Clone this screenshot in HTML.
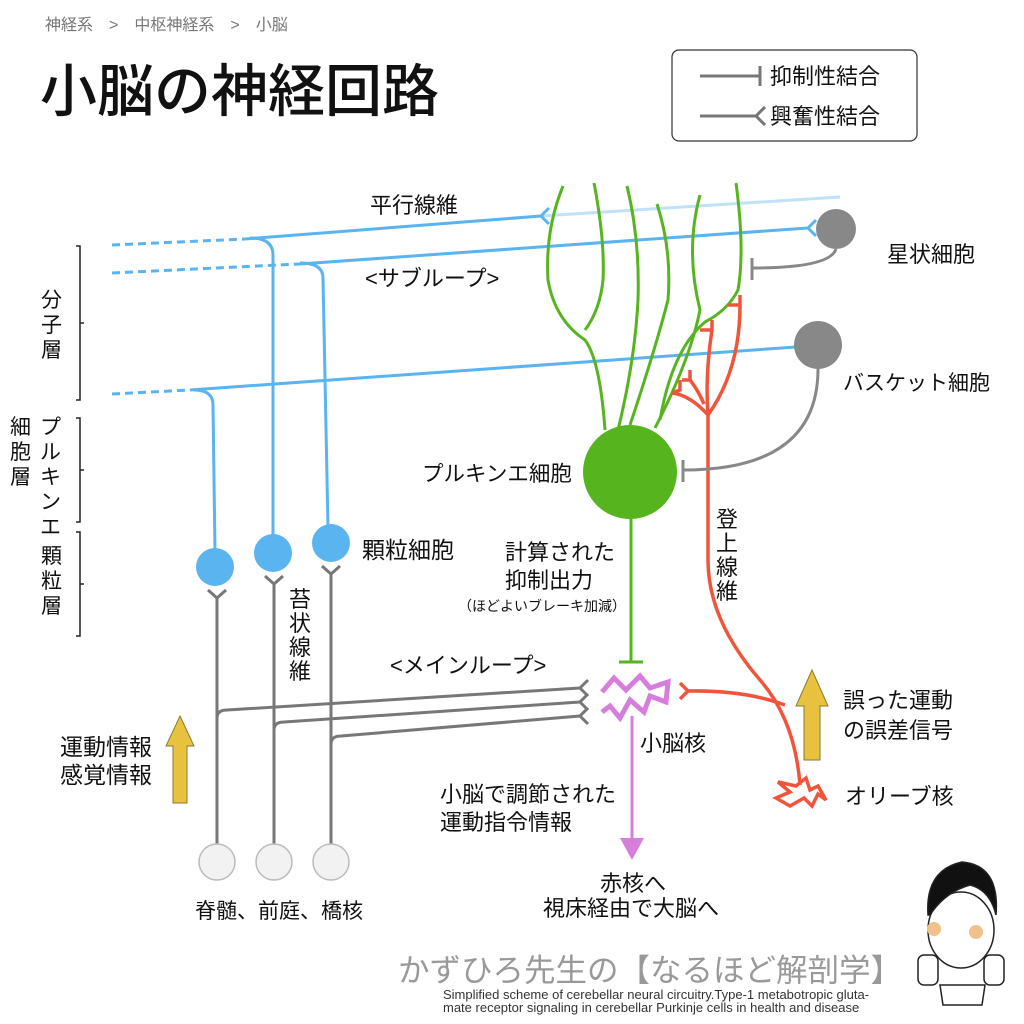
<!DOCTYPE html>
<html><head><meta charset="utf-8"><style>
html,body{margin:0;padding:0;background:#fff;}
svg{display:block;}
text{font-family:"Liberation Sans","Noto Sans CJK JP",sans-serif;fill:#111;}
</style></head><body>
<svg width="1024" height="1024" viewBox="0 0 1024 1024" xmlns="http://www.w3.org/2000/svg">
<!-- header -->
<text x="45" y="30" font-size="16" style="fill:#777">神経系　&gt;　中枢神経系　&gt;　小脳</text>
<text x="40" y="111" font-size="57" font-weight="500">小脳の神経回路</text>
<!-- legend -->
<rect x="672" y="50" width="245" height="91" rx="7" fill="#fff" stroke="#333" stroke-width="1.2"/>
<g stroke="#777" stroke-width="3" fill="none">
<line x1="700" y1="76" x2="760" y2="76"/><line x1="760" y1="66" x2="760" y2="86"/>
<line x1="700" y1="116" x2="756" y2="116"/><path d="M765 107 L756 116 L765 125"/>
</g>
<text x="770" y="84" font-size="22">抑制性結合</text>
<text x="770" y="124" font-size="22">興奮性結合</text>
<!-- left brackets -->
<g stroke="#222" stroke-width="1.5" fill="none">
<path d="M76 246 L80 246 L80 400 L76 400 M80 323 L84 323"/>
<path d="M76 418 L80 418 L80 522 L76 522 M80 470 L84 470"/>
<path d="M76 532 L80 532 L80 636 L76 636 M80 584 L84 584"/>
</g>
<g font-size="21">
<text x="41" y="307">分</text><text x="41" y="332">子</text><text x="41" y="357">層</text>
<text x="40" y="434">プ</text><text x="40" y="459">ル</text><text x="40" y="484">キ</text><text x="40" y="509">ン</text><text x="40" y="534">エ</text>
<text x="10" y="434">細</text><text x="10" y="459">胞</text><text x="10" y="484">層</text>
<text x="41" y="563">顆</text><text x="41" y="588">粒</text><text x="41" y="613">層</text>
</g>
<!-- parallel fibers -->
<g stroke="#5ab4f0" stroke-width="3" fill="none">
<line x1="112" y1="245" x2="245" y2="239" stroke-dasharray="8 5"/>
<path d="M245 239 L541 216"/>
<line x1="541" y1="216" x2="840" y2="197" stroke="#bfe2f8"/>
<path d="M549 208 L541 216 L549 224"/>
<line x1="112" y1="273" x2="300" y2="264" stroke-dasharray="8 5"/>
<path d="M300 264 L808 228"/>
<path d="M816 220 L808 228 L816 236"/>
<line x1="112" y1="394" x2="190" y2="390" stroke-dasharray="8 5"/>
<path d="M190 390 L796 347"/>
<path d="M804 339 L796 347 L804 355"/>
<path d="M250 238 Q273 238 273 255 L273 540"/>
<path d="M300 263 Q323 263 323 278 L328 528"/>
<path d="M194 390 Q213 390 213 405 L215 552"/>
</g>
<g fill="#5ab4f0"><circle cx="215" cy="567" r="19"/><circle cx="273" cy="553" r="19"/><circle cx="331" cy="543" r="19"/></g>
<!-- mossy fibers -->
<g stroke="#777" stroke-width="3" fill="none">
<line x1="217" y1="598" x2="217" y2="845"/><path d="M208 590 L217 598 L226 590"/>
<line x1="274" y1="584" x2="274" y2="845"/><path d="M265 576 L274 584 L283 576"/>
<line x1="331" y1="574" x2="331" y2="845"/><path d="M322 566 L331 574 L340 566"/>
<path d="M217 718 Q217 710 227 710 L580 688"/><path d="M588 680 L580 688 L588 696"/>
<path d="M274 730 Q274 722 284 722 L580 702"/><path d="M588 694 L580 702 L588 710"/>
<path d="M331 744 Q331 736 341 736 L580 716"/><path d="M588 708 L580 716 L588 724"/>
</g>
<g fill="#f2f2f2" stroke="#bbb" stroke-width="1.5"><circle cx="217" cy="862" r="18"/><circle cx="274" cy="862" r="18"/><circle cx="331" cy="862" r="18"/></g>
<!-- purkinje dendrites -->
<g stroke="#56b41f" stroke-width="3" fill="none">
<path d="M563 186 Q545 230 548 280 Q555 320 585 340 Q600 360 605 430"/>
<path d="M594 183 Q605 240 603 280 Q600 310 585 330"/>
<path d="M627 186 Q640 240 638 300 Q635 360 618 430"/>
<path d="M657 204 Q672 250 668 300 Q655 350 630 425"/>
<path d="M700 195 Q685 250 700 310 Q690 360 655 428"/>
<path d="M736 183 Q745 250 738 290 Q728 310 705 322 Q672 350 660 420"/>
</g>
<circle cx="630" cy="472" r="47" fill="#56b41f"/>
<g stroke="#56b41f" stroke-width="3"><line x1="631" y1="515" x2="631" y2="662"/><line x1="619" y1="662" x2="643" y2="662"/></g>
<!-- climbing fiber -->
<g stroke="#f0553c" stroke-width="3.5" fill="none">
<path d="M800 785 Q795 720 760 680 Q708 620 708 560 L708 415"/>
<path d="M708 415 Q705 375 712 330"/><path d="M700 330 L712 330 L712 320"/>
<path d="M708 415 Q740 370 740 305"/><path d="M728 305 L740 305 L740 295"/>
<path d="M708 415 Q690 395 672 393"/><path d="M672 393 L680 390 L680 380"/>
<path d="M704 404 Q698 390 690 380"/><path d="M682 380 L690 380 L690 370"/>
<path d="M785 705 Q745 690 688 691"/><path d="M680 683 L688 691 L680 699"/>
<path d="M778 782 L790 792 L776 798 L790 806 L804 798 L812 806 L818 794 L826 800 L818 786 L810 790 L806 778 L796 786 Z"/>
</g>
<!-- cerebellar nucleus -->
<g stroke="#d77ddc" stroke-width="5" fill="none" stroke-linejoin="miter">
<path d="M602 692 L614 678 L626 690 L640 676 L650 688 L668 682 L666 702 L650 696 L644 712 L630 700 L620 718 L610 706 L602 712"/>
</g>
<line x1="632" y1="716" x2="632" y2="845" stroke="#d77ddc" stroke-width="3"/>
<polygon points="620,838 644,838 632,860" fill="#d77ddc"/>
<!-- stellate/basket -->
<circle cx="836" cy="229" r="20" fill="#888"/>
<circle cx="818" cy="345" r="24" fill="#888"/>
<g stroke="#888" stroke-width="3" fill="none">
<path d="M836 249 Q830 268 752 268"/><line x1="752" y1="258" x2="752" y2="280"/>
<path d="M818 369 Q818 470 683 470"/><line x1="683" y1="460" x2="683" y2="482"/>
</g>
<!-- yellow arrows -->
<g fill="#e8c23e" stroke="#8a7a30" stroke-width="1">
<polygon points="180,716 194,746 187,746 187,803 173,803 173,746 166,746"/>
<polygon points="812,670 828,706 820,706 820,760 804,760 804,706 796,706"/>
</g>
<!-- labels -->
<g font-size="22">
<text x="370" y="213">平行線維</text>
<text x="365" y="286">&lt;サブループ&gt;</text>
<text x="390" y="673">&lt;メインループ&gt;</text>
<text x="887" y="262">星状細胞</text>
<text x="843" y="390" font-size="21">バスケット細胞</text>
<text x="422" y="481" font-size="21.5">プルキンエ細胞</text>
<text x="362" y="558" font-size="23">顆粒細胞</text>
<text x="505" y="560">計算された</text>
<text x="505" y="588">抑制出力</text>
<text x="843" y="708">誤った運動</text>
<text x="843" y="738">の誤差信号</text>
<text x="640" y="751">小脳核</text>
<text x="845" y="804">オリーブ核</text>
<text x="60" y="755" font-size="23">運動情報</text>
<text x="60" y="783" font-size="23">感覚情報</text>
<text x="440" y="802">小脳で調節された</text>
<text x="440" y="830">運動指令情報</text>
<text x="600" y="891">赤核へ</text>
<text x="543" y="916">視床経由で大脳へ</text>
<text x="195" y="918" font-size="21">脊髄、前庭、橋核</text>
<text x="716" y="527">登</text><text x="716" y="551">上</text><text x="716" y="575">線</text><text x="716" y="599">維</text>
<text x="289" y="607">苔</text><text x="289" y="631">状</text><text x="289" y="655">線</text><text x="289" y="679">維</text>
</g>
<text x="458" y="611" font-size="14">（ほどよいブレーキ加減）</text>
<!-- footer -->
<text x="398" y="981" font-size="31.5" style="fill:#999">かずひろ先生の【なるほど解剖学】</text>
<text x="443" y="999" font-size="13" style="fill:#333">Simplified scheme of cerebellar neural circuitry.Type-1 metabotropic gluta-</text>
<text x="443" y="1012" font-size="13" style="fill:#333">mate receptor signaling in cerebellar Purkinje cells in health and disease</text>
<!-- character -->
<g stroke="#222" stroke-width="1.5">
<ellipse cx="961" cy="930" rx="33" ry="38" fill="#fff"/>
<path d="M928 915 Q925 870 962 862 Q1000 865 996 915 Q990 890 970 885 Q945 892 930 915 Z" fill="#111"/>
<path d="M940 985 L985 985 L982 1005 L943 1005 Z" fill="#fff"/>
<rect x="918" y="955" width="20" height="30" rx="6" fill="#fff"/>
<rect x="984" y="955" width="20" height="30" rx="6" fill="#fff"/>
</g>
<circle cx="934" cy="929" r="7" fill="#f2c08a"/><circle cx="976" cy="932" r="7" fill="#f2c08a"/>
</svg>
</body></html>
